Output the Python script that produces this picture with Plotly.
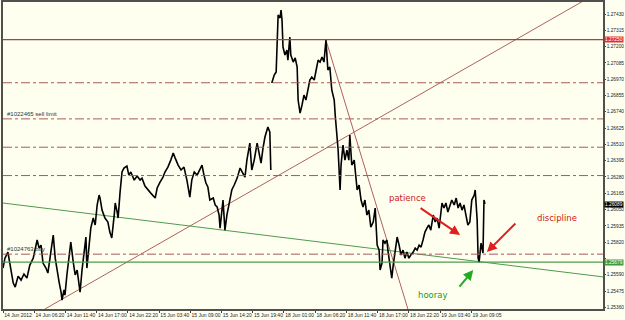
import plotly.graph_objects as go

# ---- data (bar index on M5, price) ----
bars_week1 = [0, 4, 10, 14, 21, 25, 31, 37, 43, 49, 55, 62, 66, 70, 74, 78, 82, 88, 92, 98,
              103, 107, 111, 115, 119, 121, 125, 127, 131, 135, 139, 144, 148, 152, 156, 158, 162, 166, 168, 170,
              172, 176, 180, 185, 189, 193, 197, 199, 203, 209, 215, 219, 223, 228, 230, 234, 236, 240, 244, 248,
              254, 258, 262, 269, 275, 281, 285, 291, 297, 303, 312, 316, 322, 328, 332, 338, 344, 349, 353, 359,
              365, 371, 377, 383, 387, 392, 398, 404, 408, 412, 416, 420, 424, 431, 435, 439, 443, 445, 449, 451,
              455, 459, 465, 469, 474, 480, 486, 490, 496, 500, 506, 510, 515, 521, 525, 529, 533, 537, 543, 547, 549]
price_week1 = [1.25637, 1.25707, 1.25750, 1.25679, 1.25531, 1.25503, 1.25580, 1.25552, 1.25595, 1.25566,
               1.25658, 1.25707, 1.25778, 1.25835, 1.25778, 1.25799, 1.25672, 1.25637, 1.25602, 1.25764,
               1.25870, 1.25707, 1.25609, 1.25538, 1.25467, 1.25411, 1.25482, 1.25446, 1.25588, 1.25729,
               1.25821, 1.25679, 1.25588, 1.25623, 1.25517, 1.25467, 1.25623, 1.25764, 1.25835, 1.25856,
               1.25637, 1.25799, 1.25919, 1.25990, 1.25941, 1.26082, 1.26152, 1.26131, 1.26046, 1.25990,
               1.25962, 1.25891, 1.25849, 1.26011, 1.26096, 1.26032, 1.25990, 1.26173, 1.26315, 1.26343,
               1.26357, 1.26293, 1.26315, 1.26258, 1.26286, 1.26258, 1.26272, 1.26216, 1.26188, 1.26166,
               1.26131, 1.26202, 1.26244, 1.26279, 1.26315, 1.26350, 1.26399, 1.26449, 1.26413, 1.26364,
               1.26329, 1.26350, 1.26258, 1.26138, 1.26258, 1.26315, 1.26293, 1.26343, 1.26364, 1.26293,
               1.26237, 1.26209, 1.26117, 1.26131, 1.26082, 1.26068, 1.26011, 1.25919, 1.26046, 1.26117,
               1.25905, 1.26011, 1.26117, 1.26188, 1.26223, 1.26272, 1.26343, 1.26315, 1.26279, 1.26399,
               1.26519, 1.26329, 1.26399, 1.26519, 1.26435, 1.26378, 1.26484, 1.26562, 1.26632, 1.26597, 1.26329]

bars_week2 = [551, 556, 560, 562, 564, 568, 570, 572, 574, 578, 582, 584, 588, 590, 595, 599, 603, 605, 609, 613,
              617, 621, 625, 629, 633, 638, 642, 646, 650, 654, 658, 662, 666, 670, 674, 679, 681, 685, 687, 691,
              693, 697, 701, 705, 709, 711, 715, 720, 726, 730, 734, 738, 742, 746, 750, 754, 759, 763, 767, 771,
              773, 777, 779, 783, 787, 789, 793, 797, 800, 804, 808, 812, 816, 820, 824, 828, 832, 836, 841, 845,
              849, 853, 857, 861, 865, 869, 873, 877, 882, 886, 890, 894, 898, 900, 904, 908, 912, 916, 920, 925,
              929, 933, 937, 941, 945, 949, 953, 957, 961, 966, 968, 972, 974, 976, 978, 980, 984, 986, 988]
price_week2 = [1.26943, 1.26999, 1.27021, 1.27317, 1.27423, 1.27402, 1.27458, 1.27388, 1.27197, 1.27141,
               1.27176, 1.27105, 1.27268, 1.27141, 1.27091, 1.27120, 1.27056, 1.26823, 1.26731, 1.26788,
               1.26858, 1.26823, 1.26908, 1.26964, 1.26985, 1.26964, 1.27035, 1.27105, 1.27091, 1.27127,
               1.27091, 1.27247, 1.27035, 1.27056, 1.26894, 1.26823, 1.26717, 1.26562, 1.26470, 1.26188,
               1.26364, 1.26505, 1.26399, 1.26470, 1.26399, 1.26576, 1.26364, 1.26399, 1.26188, 1.26223,
               1.26117, 1.26068, 1.26117, 1.26011, 1.26046, 1.25926, 1.25962, 1.26061, 1.25799, 1.25764,
               1.25623, 1.25672, 1.25835, 1.25813, 1.25835, 1.25764, 1.25679, 1.25566, 1.25658, 1.25764,
               1.25856, 1.25799, 1.25729, 1.25764, 1.25707, 1.25750, 1.25707, 1.25729, 1.25750, 1.25778,
               1.25764, 1.25799, 1.25785, 1.25835, 1.25891, 1.25919, 1.25941, 1.25905, 1.26011, 1.25962,
               1.25990, 1.25919, 1.26046, 1.26096, 1.26061, 1.26096, 1.26032, 1.26082, 1.26117, 1.26082,
               1.26131, 1.26061, 1.26096, 1.26046, 1.26082, 1.26011, 1.25941, 1.25962, 1.26117, 1.26152,
               1.26188, 1.25976, 1.25707, 1.25679, 1.25764, 1.25813, 1.25743, 1.26117, 1.26089]

time_labels = ["14 Jun 2012", "14 Jun 06:20", "14 Jun 11:40", "14 Jun 17:00", "14 Jun 22:20",
               "15 Jun 03:40", "15 Jun 09:00", "15 Jun 14:20", "15 Jun 19:40", "18 Jun 01:00",
               "18 Jun 06:20", "18 Jun 11:40", "18 Jun 17:00", "18 Jun 22:20", "19 Jun 03:40", "19 Jun 09:05"]
bars_per_label = 64

price_ticks = [1.27430, 1.27315, 1.27200, 1.27085, 1.26970, 1.26855, 1.26740, 1.26625, 1.26510, 1.26395,
               1.26280, 1.26165, 1.26050, 1.25935, 1.25820, 1.25705, 1.25590, 1.25475, 1.25360]
hidden_tick_labels = [1.25705]  # covered by the green price box in the terminal

resistance_level = 1.27250
support_level = 1.25679
last_price = 1.26089
dashdot_levels = [1.26945, 1.26690, 1.26490, 1.26290, 1.25735]
sell_limit_level = 1.26690
buy_level = 1.25735

rising_trend = {"bars": [86, 1193], "prices": [1.25348, 1.27529]}
falling_trend = {"bars": [662, 830], "prices": [1.27247, 1.25348]}
green_trend = {"bars": [0, 1234], "prices": [1.26096, 1.25573]}

x_range = [0, 1230]
y_range = [1.25348, 1.27515]

BG = "#FFFFF0"
MAROON = "#9C4646"
DASH_COL = "#A85A5A"
GREEN = "#4E9A4E"
FONT = "Liberation Sans"
AX_SIZE = 4.8

fig = go.Figure()

fig.add_trace(go.Scatter(x=rising_trend["bars"], y=rising_trend["prices"], mode="lines",
                         line=dict(color="#B06060", width=1), hoverinfo="skip"))
fig.add_trace(go.Scatter(x=falling_trend["bars"], y=falling_trend["prices"], mode="lines",
                         line=dict(color="#B06060", width=1), hoverinfo="skip"))
fig.add_trace(go.Scatter(x=green_trend["bars"], y=green_trend["prices"], mode="lines",
                         line=dict(color=GREEN, width=1), hoverinfo="skip"))

for bx, py in ((bars_week1, price_week1), (bars_week2, price_week2)):
    fig.add_trace(go.Scatter(x=bx, y=py, mode="lines",
                             line=dict(color="#000000", width=1.6), hoverinfo="skip"))

shapes = []
shapes.append(dict(type="line", xref="paper", x0=0, x1=1, yref="y", y0=resistance_level, y1=resistance_level,
                   line=dict(color=MAROON, width=1.2)))
shapes.append(dict(type="line", xref="paper", x0=0, x1=1, yref="y", y0=support_level, y1=support_level,
                   line=dict(color=GREEN, width=1.2)))
for lv in dashdot_levels:
    shapes.append(dict(type="line", xref="paper", x0=0, x1=1, yref="y", y0=lv, y1=lv,
                       line=dict(color=DASH_COL, width=1, dash="dashdot")))

annotations = [
    dict(x=4, y=sell_limit_level, xref="x", yref="y", text="#1022465 sell limit", showarrow=False,
         xanchor="left", yanchor="bottom", font=dict(family=FONT, size=6, color="#333333")),
    dict(x=4, y=buy_level, xref="x", yref="y", text="#1024763 buy", showarrow=False,
         xanchor="left", yanchor="bottom", font=dict(family=FONT, size=6, color="#333333")),
    dict(x=830, y=1.26131, xref="x", yref="y", text="patience", showarrow=False,
         font=dict(family="DejaVu Sans", size=8.5, color="#D02020")),
    dict(x=1136, y=1.25990, xref="x", yref="y", text="discipline", showarrow=False,
         font=dict(family="DejaVu Sans", size=8.5, color="#D02020")),
    dict(x=882, y=1.25446, xref="x", yref="y", text="hooray", showarrow=False,
         font=dict(family="DejaVu Sans", size=8.5, color="#229922")),
    dict(x=937, y=1.25870, xref="x", yref="y", ax=-41, ay=-28, text="", showarrow=True,
         arrowhead=2, arrowsize=1, arrowwidth=2, arrowcolor="#E02020"),
    dict(x=992, y=1.25750, xref="x", yref="y", ax=30, ay=-30, text="", showarrow=True,
         arrowhead=2, arrowsize=1, arrowwidth=2, arrowcolor="#E02020"),
    dict(x=964, y=1.25623, xref="x", yref="y", ax=-15, ay=18, text="", showarrow=True,
         arrowhead=2, arrowsize=1, arrowwidth=2, arrowcolor="#22AA22"),
]
for lv, bg in ((resistance_level, "#E03030"), (last_price, "#000000"), (support_level, "#3E9A3E")):
    annotations.append(dict(x=1, xref="paper", y=lv, yref="y", text=f"{lv:.5f}", showarrow=False,
                            xanchor="left", yanchor="middle", xshift=1, bgcolor=bg, borderpad=0,
                            font=dict(family=FONT, size=AX_SIZE, color="#FFFFFF")))

fig.update_layout(
    width=625, height=320,
    margin=dict(l=3, r=22, t=2, b=11, autoexpand=False),
    paper_bgcolor=BG, plot_bgcolor=BG,
    showlegend=False,
    shapes=shapes,
    annotations=annotations,
    xaxis=dict(range=x_range, tickvals=[i * bars_per_label for i in range(len(time_labels))],
               ticktext=time_labels, ticks="outside", ticklen=2, tickcolor="#404040",
               ticklabelposition="outside right", tickangle=0, automargin=False,
               tickfont=dict(family=FONT, size=5, color="#222222"),
               showgrid=False, zeroline=False, showline=True, linecolor="#505050", linewidth=1.5, mirror=True),
    yaxis=dict(range=y_range, side="right", tickvals=price_ticks,
               ticktext=["" if v in hidden_tick_labels else f"{v:.5f}" for v in price_ticks],
               ticks="outside", ticklen=1, tickcolor="#404040", automargin=False,
               tickfont=dict(family=FONT, size=AX_SIZE, color="#222222"),
               showgrid=False, zeroline=False, showline=True, linecolor="#505050", linewidth=1.5, mirror=True),
)

fig.write_html("out.html")
